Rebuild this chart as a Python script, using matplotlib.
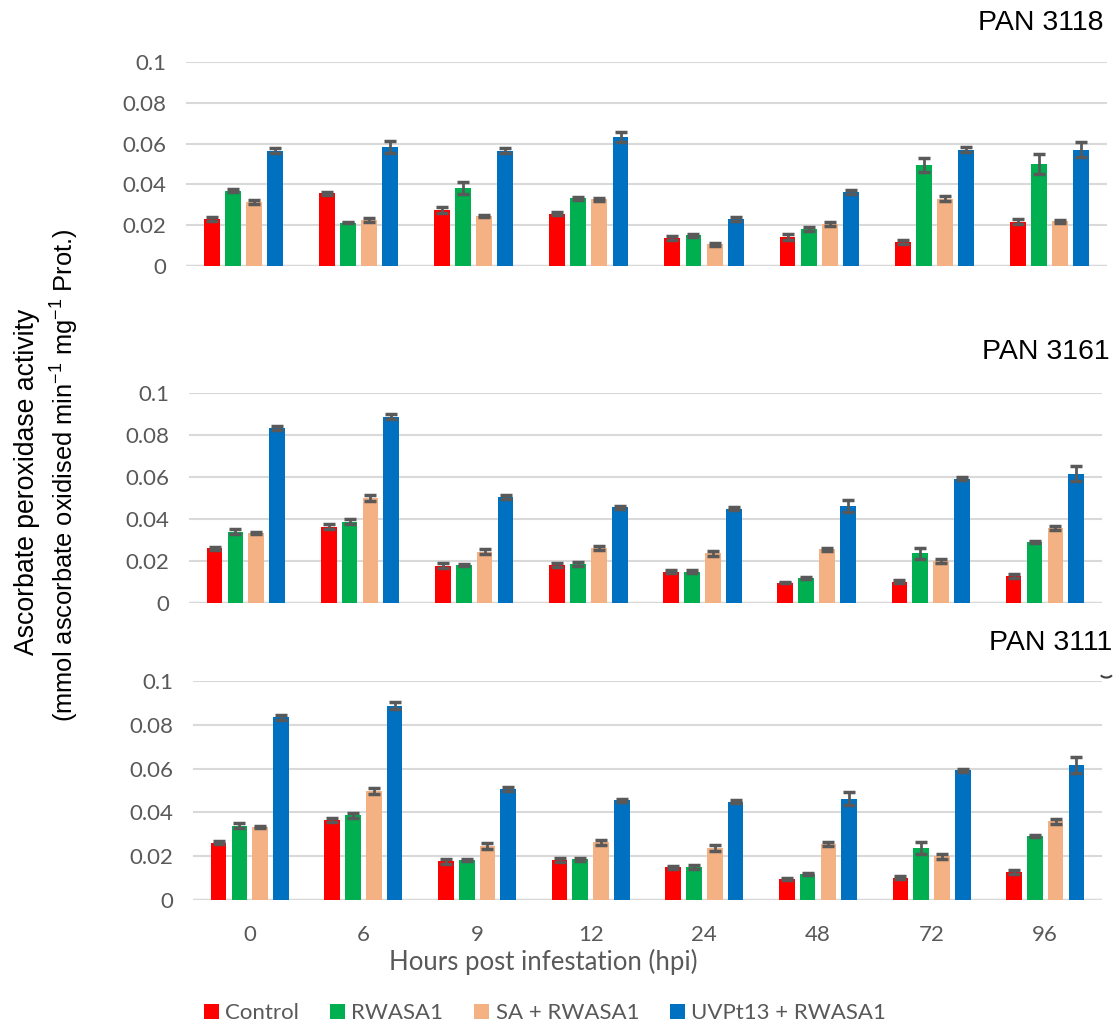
import numpy as np
import matplotlib.pyplot as plt
from matplotlib.patches import Patch, Arc

plt.rcParams['mathtext.fontset'] = 'custom'
plt.rcParams['mathtext.rm'] = 'Liberation Sans'
plt.rcParams['mathtext.it'] = 'Liberation Sans'

hours = ["0", "6", "9", "12", "24", "48", "72", "96"]
treatments = ["Control", "RWASA1", "SA + RWASA1", "UVPt13 + RWASA1"]
colors = ["#FF0000", "#00B050", "#F4B183", "#0070C0"]

# PAN 3118
p3118_control = [0.0231, 0.0357, 0.0275, 0.0257, 0.0136, 0.0142, 0.0118, 0.0217]
p3118_control_err = [0.0010, 0.0007, 0.0013, 0.0007, 0.0011, 0.0013, 0.0009, 0.0012]
p3118_rwasa1 = [0.0370, 0.0213, 0.0381, 0.0332, 0.0150, 0.0182, 0.0496, 0.0500]
p3118_rwasa1_err = [0.0008, 0.0004, 0.0030, 0.0008, 0.0008, 0.0010, 0.0033, 0.0050]
p3118_sa = [0.0313, 0.0226, 0.0245, 0.0327, 0.0106, 0.0206, 0.0330, 0.0219]
p3118_sa_err = [0.0010, 0.0008, 0.0007, 0.0008, 0.0006, 0.0008, 0.0012, 0.0006]
p3118_uvpt = [0.0565, 0.0583, 0.0565, 0.0633, 0.0230, 0.0363, 0.0569, 0.0569]
p3118_uvpt_err = [0.0012, 0.0028, 0.0012, 0.0024, 0.0010, 0.0008, 0.0012, 0.0037]

# PAN 3161
p3161_control = [0.0261, 0.0364, 0.0177, 0.0182, 0.0149, 0.0097, 0.0102, 0.0128]
p3161_control_err = [0.0007, 0.0010, 0.0012, 0.0010, 0.0006, 0.0004, 0.0007, 0.0010]
p3161_rwasa1 = [0.0340, 0.0386, 0.0183, 0.0185, 0.0150, 0.0120, 0.0237, 0.0292]
p3161_rwasa1_err = [0.0010, 0.0012, 0.0005, 0.0008, 0.0008, 0.0005, 0.0026, 0.0004]
p3161_sa = [0.0333, 0.0498, 0.0245, 0.0263, 0.0236, 0.0255, 0.0200, 0.0359]
p3161_sa_err = [0.0004, 0.0014, 0.0013, 0.0010, 0.0014, 0.0009, 0.0011, 0.0010]
p3161_uvpt = [0.0834, 0.0888, 0.0506, 0.0456, 0.0449, 0.0462, 0.0592, 0.0616]
p3161_uvpt_err = [0.0010, 0.0014, 0.0010, 0.0007, 0.0007, 0.0030, 0.0008, 0.0035]

# PAN 3111
p3111_control = [0.0261, 0.0364, 0.0177, 0.0182, 0.0149, 0.0097, 0.0102, 0.0128]
p3111_control_err = [0.0007, 0.0010, 0.0012, 0.0010, 0.0006, 0.0004, 0.0007, 0.0010]
p3111_rwasa1 = [0.0340, 0.0386, 0.0183, 0.0185, 0.0150, 0.0120, 0.0237, 0.0292]
p3111_rwasa1_err = [0.0010, 0.0012, 0.0005, 0.0008, 0.0008, 0.0005, 0.0026, 0.0004]
p3111_sa = [0.0333, 0.0498, 0.0245, 0.0263, 0.0236, 0.0255, 0.0200, 0.0359]
p3111_sa_err = [0.0004, 0.0014, 0.0013, 0.0010, 0.0014, 0.0009, 0.0011, 0.0010]
p3111_uvpt = [0.0834, 0.0888, 0.0506, 0.0456, 0.0449, 0.0462, 0.0592, 0.0616]
p3111_uvpt_err = [0.0010, 0.0014, 0.0010, 0.0007, 0.0007, 0.0030, 0.0008, 0.0035]

# name, bar series, error series, axes rect, title anchor (fig coords)
panels = [
    ("PAN 3118", [p3118_control, p3118_rwasa1, p3118_sa, p3118_uvpt],
     [p3118_control_err, p3118_rwasa1_err, p3118_sa_err, p3118_uvpt_err],
     [0.1665, 0.7405, 0.8245, 0.199], (0.9875, 0.978)),
    ("PAN 3161", [p3161_control, p3161_rwasa1, p3161_sa, p3161_uvpt],
     [p3161_control_err, p3161_rwasa1_err, p3161_sa_err, p3161_uvpt_err],
     [0.169, 0.4117, 0.8176, 0.2049], (0.9937, 0.6566)),
    ("PAN 3111", [p3111_control, p3111_rwasa1, p3111_sa, p3111_uvpt],
     [p3111_control_err, p3111_rwasa1_err, p3111_sa_err, p3111_uvpt_err],
     [0.1728, 0.122, 0.8138, 0.2136], (0.9955, 0.3727)),
]

tick_font = "Lato"
grey = "#595959"

fig = plt.figure(figsize=(11.17, 10.25), dpi=100)
x = np.arange(len(hours))
pitch = 0.183
width = 0.138

for i, (name, series, errs, rect, title_xy) in enumerate(panels):
    ax = fig.add_axes(rect)
    for j in range(4):
        ax.bar(x + (j - 1.5) * pitch, series[j], width, color=colors[j],
               yerr=errs[j], error_kw=dict(ecolor=grey, elinewidth=2,
                                           capsize=4.5, capthick=2.5),
               zorder=3)
    ax.set_xlim(-0.5, len(hours) - 0.5)
    ax.set_ylim(0, 0.1)
    ax.set_yticks([0, 0.02, 0.04, 0.06, 0.08, 0.1])
    ax.set_yticklabels(["0", "0.02", "0.04", "0.06", "0.08", "0.1"],
                       fontfamily=tick_font, fontsize=16, color=grey)
    ax.grid(axis="y", color="#d9d9d9", linewidth=1.5, zorder=0)
    ax.axhline(0, color="#d9d9d9", linewidth=2.5, zorder=1)
    for s in ax.spines.values():
        s.set_visible(False)
    ax.tick_params(length=0, pad=14)
    if i == 2:
        ax.set_xticks(x)
        ax.set_xticklabels(hours, fontfamily=tick_font, fontsize=16, color=grey)
        ax.tick_params(axis="x", pad=18)
    else:
        ax.set_xticks([])
    fig.text(title_xy[0], title_xy[1], name, ha="right", va="center",
             fontfamily="Liberation Sans", fontsize=20.5)

# small stray arc at the top right of the last panel
fig.add_artist(Arc((0.9905, 0.343), 0.011, 0.008, theta1=200, theta2=340,
                   transform=fig.transFigure, color="#404040", linewidth=1.5))

fig.text(0.486, 0.0615, "Hours post infestation (hpi)", ha="center",
         va="center", fontfamily=tick_font, fontsize=18.5, color=grey)

fig.text(0.0305, 0.530, "Ascorbate peroxidase activity", rotation=90,
         rotation_mode="anchor", ha="center", va="baseline",
         fontfamily="Liberation Sans", fontsize=19.2)
fig.text(0.066, 0.536, r"(mmol ascorbate oxidised min$^{-1}$ mg$^{-1}$ Prot.)",
         rotation=90, rotation_mode="anchor", ha="center", va="baseline",
         fontfamily="Liberation Sans", fontsize=18.4)

handles = [Patch(facecolor=c, label=t) for c, t in zip(colors, treatments)]
fig.legend(handles=handles, loc="center", bbox_to_anchor=(0.488, 0.0117),
           ncol=4, frameon=False, handlelength=0.65, handleheight=0.65,
           handletextpad=0.3, columnspacing=1.4, borderpad=0,
           prop=dict(family=tick_font, size=16), labelcolor=grey)

fig.savefig("out.png", dpi=100)
